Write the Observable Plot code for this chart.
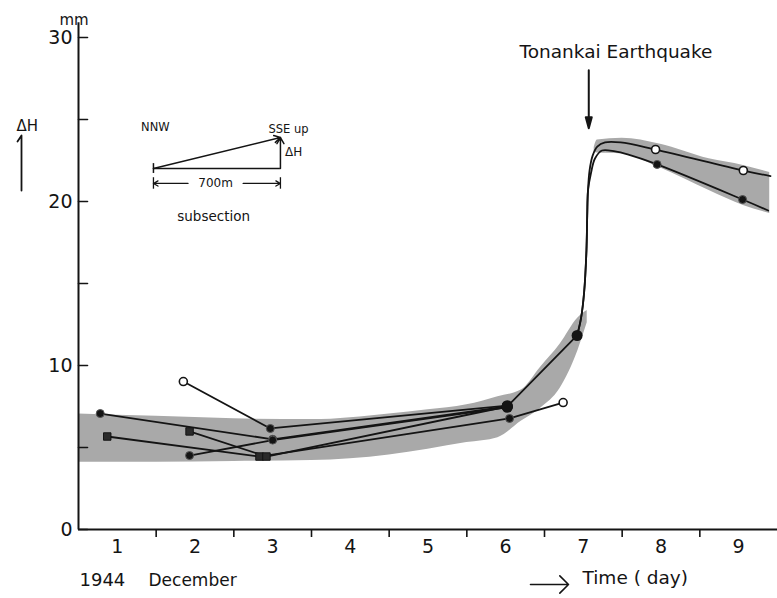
<!DOCTYPE html>
<html>
<head>
<meta charset="utf-8">
<script src="https://cdn.jsdelivr.net/npm/d3@7"></script>
<script src="https://cdn.jsdelivr.net/npm/@observablehq/plot@0.6"></script>
<style>
  html, body { margin: 0; padding: 0; background: #fff; }
  #chart svg { display: block; }
</style>
</head>
<body>
<div id="chart"></div>
<script>
// Axis values
const dayNumbers = [1, 2, 3, 4, 5, 6, 7, 8, 9];
const dayBoundaries = [2, 3, 4, 5, 6, 7, 8, 9];
const mmTicks = [0, 5, 10, 15, 20, 25, 30];
const mmLabels = [0, 10, 20, 30];

// ΔH (mm) against time (days of December 1944, fractional day)
const aT = [1.28, 3.50, 6.52, 7.42];
const aH = [7.07, 5.50, 7.50, 11.83];
const aMark = ["dot", "dot", "blob", "blob"];
const bT = [1.37, 3.33, 6.55, 7.24];
const bH = [5.67, 4.45, 6.77, 7.74];
const bMark = ["square", "square", "dot", "open"];
const cT = [2.43, 3.42, 6.52];
const cH = [5.98, 4.45, 7.50];
const cMark = ["square", "square", "blob"];
const dT = [2.43, 3.50, 6.52];
const dH = [4.51, 5.45, 7.45];
const dMark = ["dot", "dot", "blob"];
const eT = [2.35, 3.47, 6.52];
const eH = [9.02, 6.16, 7.55];
const eMark = ["open", "dot", "blob"];

// Co-seismic jump on the 7th, then the two post-seismic traces
const quakeTime = 7.57;
const riseT = [7.42, 7.47, 7.51, 7.54, 7.55, 7.56];
const riseH = [11.83, 12.87, 14.45, 17.0, 19.15, 20.67];
const upperT = [7.58, 7.62, 7.68, 7.78, 7.98, 8.43, 9.56, 9.91];
const upperH = [21.89, 22.80, 23.35, 23.60, 23.60, 23.17, 21.89, 21.55];
const upperMark = ["", "", "", "", "", "open", "open", ""];
const lowerT = [7.60, 7.65, 7.74, 7.91, 8.07, 8.45, 9.55, 9.88];
const lowerH = [21.77, 22.62, 23.11, 23.05, 22.87, 22.26, 20.12, 19.45];
const lowerMark = ["", "", "", "", "", "dot", "dot", ""];

// Shaded envelope before the shock
const bandT  = [1.0, 2.0, 3.0, 4.0, 5.0, 5.5, 6.0, 6.4, 6.7, 6.95, 7.2, 7.43, 7.55];
const bandHi = [7.05, 6.9, 6.75, 6.7, 7.05, 7.3, 7.6, 8.1, 8.5, 9.9, 11.3, 12.9, 13.35];
const bandLo = [4.1, 4.1, 4.15, 4.2, 4.55, 4.9, 5.3, 5.6, 6.6, 7.4, 8.6, 10.9, 12.6];
// Shaded envelope after the shock
const band2T  = [7.64, 7.68, 8.0, 8.48, 9.12, 9.56, 9.9];
const band2Hi = [23.3, 23.75, 23.85, 23.5, 22.6, 22.2, 21.77];
const band2Lo = [23.0, 22.95, 22.9, 22.07, 20.67, 19.76, 19.27];

const rows = (ts, hs, marks, series) =>
  ts.map((t, i) => ({t, h: hs[i], mark: marks ? marks[i] : "", series}));

const pre = [
  ...rows(aT, aH, aMark, "a"), ...rows(bT, bH, bMark, "b"),
  ...rows(cT, cH, cMark, "c"), ...rows(dT, dH, dMark, "d"),
  ...rows(eT, eH, eMark, "e")
];
const rise = rows(riseT, riseH, null, "rise");
const upper = [...rise.map(d => ({...d, series: "upper"})), ...rows(upperT, upperH, upperMark, "upper")];
const lower = [...rise.map(d => ({...d, series: "lower"})), ...rows(lowerT, lowerH, lowerMark, "lower")];
const allPoints = [...pre, ...upper, ...lower];
const band1 = bandT.map((t, i) => ({t, lo: bandLo[i], hi: bandHi[i]}));
const band2 = band2T.map((t, i) => ({t, lo: band2Lo[i], hi: band2Hi[i]}));

const ink = "#141414";
const shade = "#a9a9a9";
const tickShape = {draw(ctx, l) { ctx.moveTo(0, 0); ctx.lineTo(0, -l); }};
const flagShape = {draw(ctx, l) { ctx.moveTo(0, 0); ctx.lineTo(0, -l); ctx.lineTo(-4, -l + 6); }};
const pointerShape = {draw(ctx, l) {
  ctx.moveTo(0, 0); ctx.lineTo(0, -l + 8);
  ctx.moveTo(0, -l); ctx.lineTo(-3, -l + 11); ctx.lineTo(3, -l + 11); ctx.closePath();
}};

// Inset sketch of the levelling subsection (drawn in chart units)
const skL = 1.965, skR = 3.60, skBase = 22.01, skTop = 23.90, skDim = 21.1;

const chart = Plot.plot({
  width: 777,
  height: 598,
  marginLeft: 78,
  marginRight: 0,
  marginTop: 37,
  marginBottom: 69,
  x: {domain: [1, 10]},
  y: {domain: [0, 30]},
  style: {fontFamily: "'DejaVu Sans', sans-serif", color: ink, background: "#fff", overflow: "visible"},
  marks: [
    // shaded envelopes
    Plot.areaY(band1, {x: "t", y1: "lo", y2: "hi", fill: shade, curve: "monotone-x"}),
    Plot.areaY(band2, {x: "t", y1: "lo", y2: "hi", fill: shade, curve: "monotone-x"}),

    // axes
    Plot.ruleX([1], {y1: 0, y2: 30.9, stroke: ink, strokeWidth: 2}),
    Plot.ruleY([0], {x1: 1, x2: 10, stroke: ink, strokeWidth: 2}),
    Plot.vector(mmTicks, {y: d => d, frameAnchor: "left", length: 9, rotate: 90, anchor: "start",
      shape: tickShape, stroke: ink, strokeWidth: 1.6}),
    Plot.axisY(mmLabels, {tickSize: 0, tickPadding: 6, fontSize: 19, label: null, tickFormat: d => String(d)}),
    Plot.axisX(dayBoundaries, {tickSize: 8, label: null, tickFormat: () => "", stroke: ink, strokeWidth: 1.6}),
    Plot.axisX(dayNumbers.map(d => d + 0.5), {tickSize: 0, tickPadding: 10, fontSize: 19, label: null,
      tickFormat: d => String(Math.floor(d))}),

    // observation lines
    Plot.line(pre, {x: "t", y: "h", z: "series", stroke: ink, strokeWidth: 1.8}),
    Plot.line(upper, {x: "t", y: "h", stroke: ink, strokeWidth: 1.8, curve: "catmull-rom"}),
    Plot.line(lower, {x: "t", y: "h", stroke: ink, strokeWidth: 1.8, curve: "catmull-rom"}),

    // markers
    Plot.dot(allPoints.filter(d => d.mark === "blob"), {x: "t", y: "h", r: 5.5, fill: ink}),
    Plot.dot(allPoints.filter(d => d.mark === "dot"), {x: "t", y: "h", r: 4, fill: ink, stroke: "#555", strokeWidth: 1}),
    Plot.dot(allPoints.filter(d => d.mark === "square"), {x: "t", y: "h", r: 4.2, symbol: "square",
      fill: "#2a2a2a", stroke: ink, strokeWidth: 1}),
    Plot.dot(allPoints.filter(d => d.mark === "open"), {x: "t", y: "h", r: 4, fill: "#fff", stroke: ink, strokeWidth: 1.6}),

    // earthquake annotation
    Plot.text(["Tonankai Earthquake"], {x: () => 7.92, y: () => 29.09, text: d => d, fontSize: 18.5}),
    Plot.vector([quakeTime], {x: d => d, y: () => 28.0, length: 58, rotate: 180, anchor: "start",
      shape: pointerShape, stroke: ink, fill: ink, strokeWidth: 2}),

    // inset sketch
    Plot.ruleY([skBase], {x1: skL, x2: skR, stroke: ink, strokeWidth: 1.5}),
    Plot.ruleX([skL], {y1: skBase - 0.3, y2: skBase + 0.3, stroke: ink, strokeWidth: 1.5}),
    Plot.arrow([0], {x1: skL, y1: skBase, x2: skR, y2: skTop, stroke: ink, strokeWidth: 1.5,
      headLength: 7, insetEnd: 0}),
    Plot.arrow([0], {x1: skR, y1: skBase, x2: skR, y2: skTop, stroke: ink, strokeWidth: 1.5,
      headLength: 7, insetEnd: 0}),
    Plot.ruleX([skL, skR], {y1: skDim - 0.35, y2: skDim + 0.35, stroke: ink, strokeWidth: 1.3}),
    Plot.arrow([0], {x1: 2.41, y1: skDim, x2: skL, y2: skDim, stroke: ink, strokeWidth: 1.3, headLength: 6}),
    Plot.arrow([0], {x1: 3.12, y1: skDim, x2: skR, y2: skDim, stroke: ink, strokeWidth: 1.3, headLength: 6}),
    Plot.text(["700m"], {x: () => 2.765, y: () => skDim, text: d => d, fontSize: 12}),
    Plot.text(["NNW"], {x: () => 1.99, y: () => 24.5, text: d => d, fontSize: 11.5}),
    Plot.text(["SSE up"], {x: () => 3.445, y: () => 24.4, text: d => d, fontSize: 11.5, textAnchor: "start"}),
    Plot.text(["ΔH"], {x: () => 3.66, y: () => 22.99, text: d => d, fontSize: 12, textAnchor: "start"}),
    Plot.text(["subsection"], {x: () => 2.74, y: () => 19.09, text: d => d, fontSize: 13.5}),

    // outer labels
    Plot.text(["mm"], {frameAnchor: "top-left", dx: -19, dy: -23, text: d => d, fontSize: 15}),
    Plot.text(["ΔH"], {frameAnchor: "top-left", dx: -62, dy: 83, text: d => d, fontSize: 15}),
    Plot.vector([0], {frameAnchor: "top-left", dx: -57, dy: 153, length: 55, rotate: 0, anchor: "start",
      shape: flagShape, stroke: ink, strokeWidth: 1.8}),
    Plot.text(["1944"], {frameAnchor: "bottom-left", dx: 1, dy: 56, text: d => d, fontSize: 18, textAnchor: "start"}),
    Plot.text(["December"], {frameAnchor: "bottom-left", dx: 70, dy: 56, text: d => d, fontSize: 17, textAnchor: "start"}),
    Plot.vector([0], {frameAnchor: "bottom-left", dx: 452, dy: 55, length: 38, rotate: 90, anchor: "start",
      r: 4, stroke: ink, strokeWidth: 1.6}),
    Plot.text(["Time ( day)"], {frameAnchor: "bottom-left", dx: 504, dy: 54, text: d => d, fontSize: 18.5, textAnchor: "start"})
  ]
});

document.getElementById("chart").appendChild(chart);
</script>
</body>
</html>
